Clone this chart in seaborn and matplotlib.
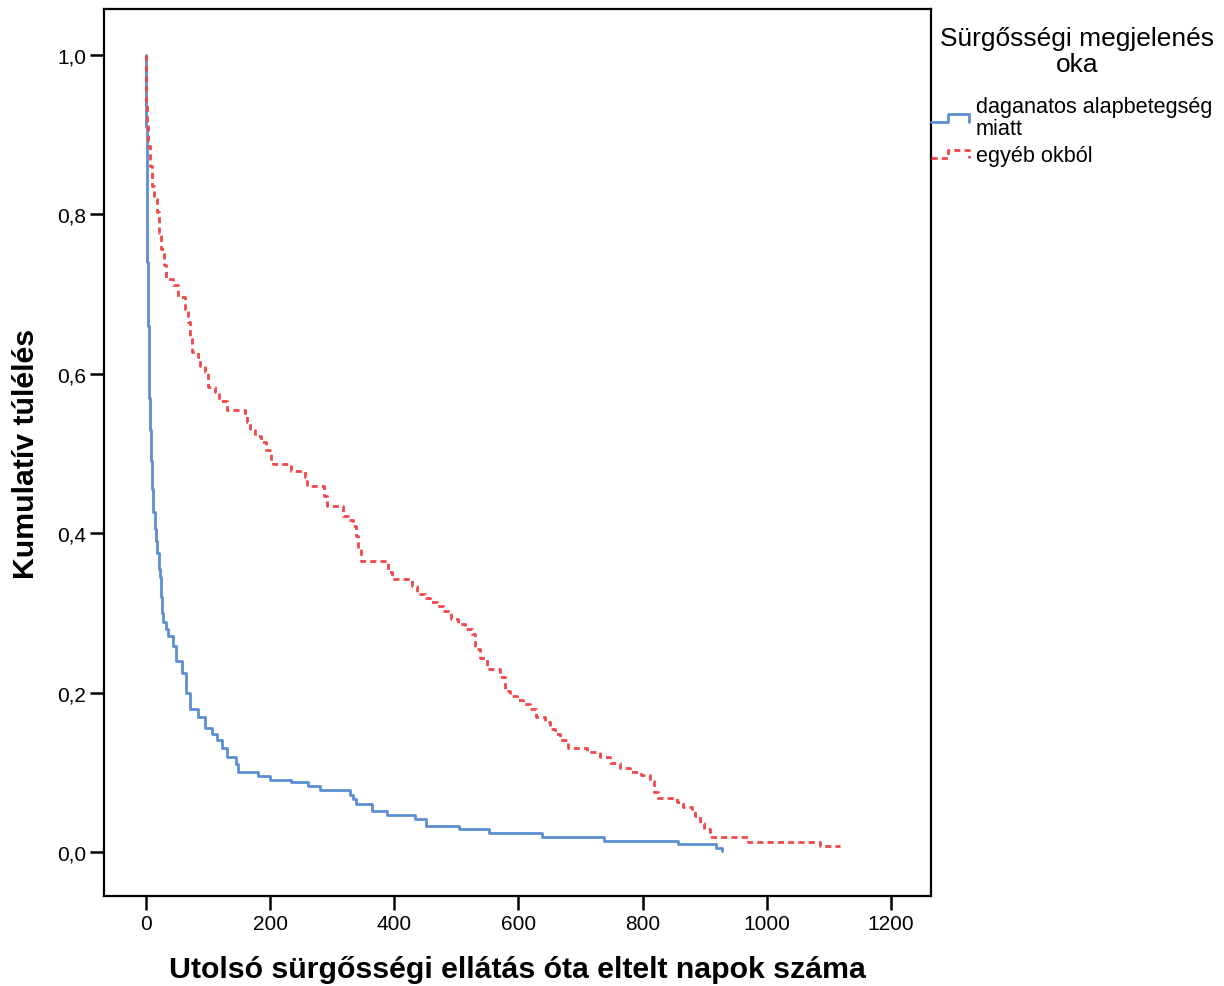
import pandas as pd
import matplotlib
matplotlib.use("Agg")
import matplotlib.pyplot as plt
import seaborn as sns
from matplotlib.lines import Line2D
from matplotlib.legend_handler import HandlerBase
from matplotlib.ticker import FuncFormatter

# ---------------------------------------------------------------------------------
# Adatok (Kaplan-Meier lépcsők, leolvasva)
# ---------------------------------------------------------------------------------
group_labels = ["daganatos alapbetegség\nmiatt", "egyéb okból"]

days_blue = [0, 0, 1, 2, 3, 5, 6, 8, 10, 11, 14, 16, 18, 21, 23, 24, 26, 28, 33, 36,
             43, 49, 58, 64, 71, 84, 95, 106, 114, 122, 130, 145, 149, 181, 200, 234,
             261, 281, 329, 333, 338, 364, 388, 433, 451, 504, 552, 638, 738, 857,
             918, 928]
surv_blue = [1.0, 0.91, 0.80, 0.74, 0.66, 0.57, 0.53, 0.49, 0.455, 0.427, 0.405, 0.39,
             0.375, 0.355, 0.345, 0.32, 0.30, 0.289, 0.28, 0.271, 0.259, 0.240, 0.225,
             0.200, 0.179, 0.169, 0.156, 0.148, 0.140, 0.131, 0.119, 0.110, 0.101,
             0.0957, 0.0907, 0.0874, 0.0824, 0.0778, 0.072, 0.066, 0.060, 0.0514,
             0.0464, 0.0414, 0.0326, 0.0289, 0.0238, 0.0188, 0.0138, 0.010, 0.005,
             0.001]

days_red = [0, 0, 1, 4, 6, 9, 13, 17, 21, 25, 29, 33, 43, 52, 63, 68, 71, 74, 84, 87,
            95, 100, 111, 117, 130, 159, 162, 167, 176, 186, 194, 202, 205, 233, 256,
            259, 286, 291, 318, 326, 334, 339, 342, 346, 390, 396, 428, 436, 449, 457,
            468, 479, 492, 503, 514, 525, 530, 538, 549, 570, 578, 586, 597, 608, 618,
            629, 643, 651, 659, 667, 680, 710, 731, 748, 763, 780, 798, 812, 818, 825,
            855, 865, 879, 884, 892, 898, 908, 970, 1086, 1118]
surv_red = [1.0, 0.94, 0.911, 0.886, 0.861, 0.836, 0.819, 0.803, 0.777, 0.757, 0.736,
            0.719, 0.711, 0.696, 0.681, 0.665, 0.644, 0.627, 0.621, 0.610, 0.602, 0.583,
            0.577, 0.566, 0.555, 0.547, 0.539, 0.531, 0.522, 0.514, 0.504, 0.493, 0.487,
            0.478, 0.470, 0.459, 0.447, 0.434, 0.422, 0.416, 0.409, 0.397, 0.380, 0.365,
            0.351, 0.343, 0.334, 0.324, 0.319, 0.314, 0.309, 0.303, 0.292, 0.286, 0.280,
            0.274, 0.255, 0.244, 0.230, 0.219, 0.202, 0.196, 0.191, 0.186, 0.179, 0.170,
            0.163, 0.154, 0.148, 0.140, 0.130, 0.125, 0.119, 0.112, 0.106, 0.100, 0.096,
            0.0895, 0.0749, 0.0678, 0.063, 0.057, 0.052, 0.045, 0.037, 0.029, 0.0185,
            0.012, 0.0071, 0.0071]

x_ticks = [0, 200, 400, 600, 800, 1000, 1200]
y_ticks = [0.0, 0.2, 0.4, 0.6, 0.8, 1.0]

colors = {group_labels[0]: "#5B8FD2", group_labels[1]: "#F0484A"}
dashes = {group_labels[0]: "", group_labels[1]: (2.2, 1.5)}

df = pd.concat([
    pd.DataFrame({"nap": days_blue, "tuleles": surv_blue, "csoport": group_labels[0]}),
    pd.DataFrame({"nap": days_red, "tuleles": surv_red, "csoport": group_labels[1]}),
], ignore_index=True)

sns.set_style("white")
plt.rcParams["font.family"] = ["Liberation Sans", "DejaVu Sans"]
plt.rcParams["text.color"] = "black"
plt.rcParams["axes.labelcolor"] = "black"

fig = plt.figure(figsize=(12.24, 9.87), dpi=100)
ax = fig.add_axes([104 / 1224, 1 - 897 / 987, (931 - 104) / 1224, (897 - 10) / 987])

sns.lineplot(data=df, x="nap", y="tuleles", hue="csoport", style="csoport",
             palette=colors, dashes=dashes, drawstyle="steps-post",
             estimator=None, sort=False, legend=False, linewidth=2.0, ax=ax)

ax.set_xlim(-67.6, 1264.4)
ax.set_ylim(-0.0552, 1.0577)
ax.set_xticks(x_ticks)
ax.set_yticks(y_ticks)
ax.yaxis.set_major_formatter(FuncFormatter(lambda v, p: f"{v:.1f}".replace(".", ",")))
ax.tick_params(direction="out", length=10, width=1.8, labelsize=15, colors="black",
               bottom=True, left=True, pad=3)
for s in ax.spines.values():
    s.set_color("black")
    s.set_linewidth(1.6)

ax.set_xlabel("Utolsó sürgősségi ellátás óta eltelt napok száma", fontsize=21.8,
              fontweight="bold", labelpad=16)
ax.set_ylabel("Kumulatív túlélés", fontsize=21.8, fontweight="bold", labelpad=12)


class StepHandler(HandlerBase):
    def create_artists(self, legend, orig_handle, xdescent, ydescent, width, height,
                       fontsize, trans):
        x0 = -xdescent
        y0 = -ydescent
        xs = [x0, x0 + 0.45 * width, x0 + 0.45 * width, x0 + width, x0 + width]
        ys = [y0 + 0.2 * height, y0 + 0.2 * height, y0 + 0.75 * height,
              y0 + 0.75 * height, y0 + 0.2 * height]
        line = Line2D(xs, ys)
        line.update_from(orig_handle)
        line.set_data(xs, ys)
        line.set_transform(trans)
        return [line]


# legend title as separate centred text
fig.text(1077 / 1224, 1 - 52 / 987, "Sürgősségi megjelenés\noka", ha="center",
         va="center", fontsize=19, linespacing=1.1)

handles = [Line2D([], [], color=colors[g], linewidth=2.0,
                  linestyle="-" if g == group_labels[0] else (0, (2.2, 1.5)))
           for g in group_labels]
leg = ax.legend(handles, group_labels, loc="upper left",
                bbox_to_anchor=(1.0, (897 - 97) / 887), frameon=False,
                fontsize=15.6, borderpad=0, borderaxespad=0,
                handlelength=1.75, handletextpad=0.32, labelspacing=0.3,
                handler_map={Line2D: StepHandler()})
for t in leg.get_texts():
    t.set_linespacing(1.05)

fig.savefig("out.png", dpi=100)
